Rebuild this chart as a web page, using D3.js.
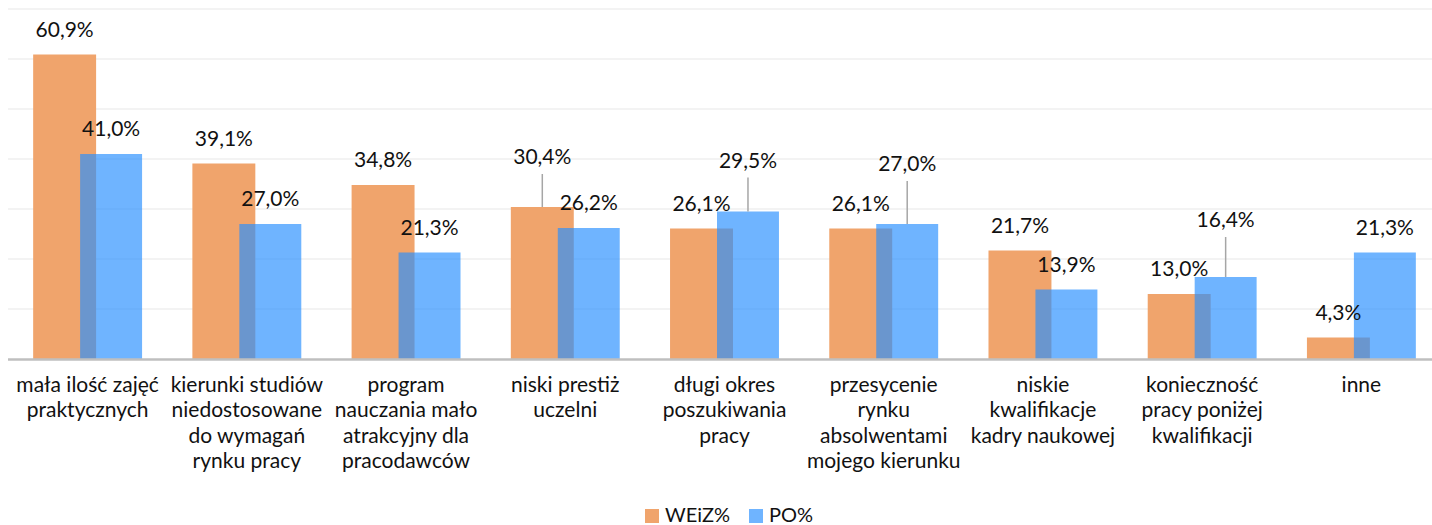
<!DOCTYPE html>
<html>
<head>
<meta charset="utf-8">
<script src="https://cdn.jsdelivr.net/npm/d3@7"></script>
<style>
  body { margin: 0; background: #fff; }
  svg { display: block; font-family: Lato, "Open Sans", sans-serif; }
</style>
</head>
<body>
<svg width="1432" height="525"></svg>
<script>
const categories = [
  ["mała ilość zajęć", "praktycznych"],
  ["kierunki studiów", "niedostosowane", "do wymagań", "rynku pracy"],
  ["program", "nauczania mało", "atrakcyjny dla", "pracodawców"],
  ["niski prestiż", "uczelni"],
  ["długi okres", "poszukiwania", "pracy"],
  ["przesycenie", "rynku", "absolwentami", "mojego kierunku"],
  ["niskie", "kwalifikacje", "kadry naukowej"],
  ["konieczność", "pracy poniżej", "kwalifikacji"],
  ["inne"]
]
const weiz = [60.9, 39.1, 34.8, 30.4, 26.1, 26.1, 21.7, 13.0, 4.3]
const po = [41.0, 27.0, 21.3, 26.2, 29.5, 27.0, 13.9, 16.4, 21.3]
const seriesNames = ["WEiZ%", "PO%"]
const yTicks = [0, 10, 20, 30, 40, 50, 60, 70]

// labels Excel pushed up with a leader line: [category index, series, extra lift]
const lifted = [[3, 0, 25], [4, 1, 26], [5, 1, 35], [7, 1, 32]]

const svg = d3.select("svg")
const fmt = v => v.toFixed(1).replace(".", ",") + "%"

const x = d3.scaleBand().domain(d3.range(categories.length))
  .range([8, 1441]).paddingInner(0.316).paddingOuter(0.158)
const y = d3.scaleLinear().domain([0, 70]).range([359, 9])
const inner = d3.scaleLinear().domain([0, 109]).range([0, x.bandwidth()])

// gridlines
svg.append("g").selectAll("line").data(yTicks.slice(1)).enter().append("line")
  .attr("x1", 8).attr("x2", 1432)
  .attr("y1", d => y(d)).attr("y2", d => y(d))
  .attr("stroke", "#efefef").attr("stroke-width", 1.5)

const series = [
  {name: seriesNames[0], values: weiz, off: 0, w: 63, fill: "#f0a46c", op: 1},
  {name: seriesNames[1], values: po, off: 47, w: 62, fill: "#288fff", op: 0.67}
]

series.forEach(s => {
  svg.append("g").selectAll("rect").data(s.values).enter().append("rect")
    .attr("x", (d, i) => x(i) + inner(s.off))
    .attr("width", inner(s.w))
    .attr("y", d => y(d))
    .attr("height", d => y(0) - y(d))
    .attr("fill", s.fill).attr("fill-opacity", s.op)
})

// axis line
svg.append("line").attr("x1", 8).attr("x2", 1432)
  .attr("y1", y(0) + 0.5).attr("y2", y(0) + 0.5)
  .attr("stroke", "#bfbfbf").attr("stroke-width", 2.5)

// data labels
series.forEach((s, si) => {
  s.values.forEach((v, i) => {
    const cx = x(i) + inner(s.off + s.w / 2)
    const lift = (lifted.find(l => l[0] === i && l[1] === si) || [0, 0, 0])[2]
    const base = y(v) - 18 - lift
    if (lift) {
      svg.append("line").attr("x1", cx).attr("x2", cx)
        .attr("y1", base + 10).attr("y2", y(v))
        .attr("stroke", "#a6a6a6").attr("stroke-width", 1.5)
    }
    svg.append("text").attr("x", cx).attr("y", base)
      .attr("text-anchor", "middle").attr("font-size", 21).attr("fill", "#111")
      .text(fmt(v))
  })
})

// category labels
const xl = svg.append("g")
categories.forEach((lines, i) => {
  const t = xl.append("text").attr("text-anchor", "middle")
    .attr("font-size", 21).attr("fill", "#111")
  lines.forEach((ln, k) => {
    t.append("tspan").attr("x", x(i) + x.bandwidth() / 2).attr("y", 392 + k * 25.3).text(ln)
  })
})

// legend
const lg = svg.append("g")
const lx = [645, 749]
series.forEach((s, si) => {
  lg.append("rect").attr("x", lx[si]).attr("y", 509).attr("width", 14).attr("height", 14)
    .attr("fill", s.fill).attr("fill-opacity", s.op)
  lg.append("text").attr("x", lx[si] + 20).attr("y", 522)
    .attr("font-size", 20).attr("fill", "#111").text(s.name)
})
</script>
</body>
</html>
